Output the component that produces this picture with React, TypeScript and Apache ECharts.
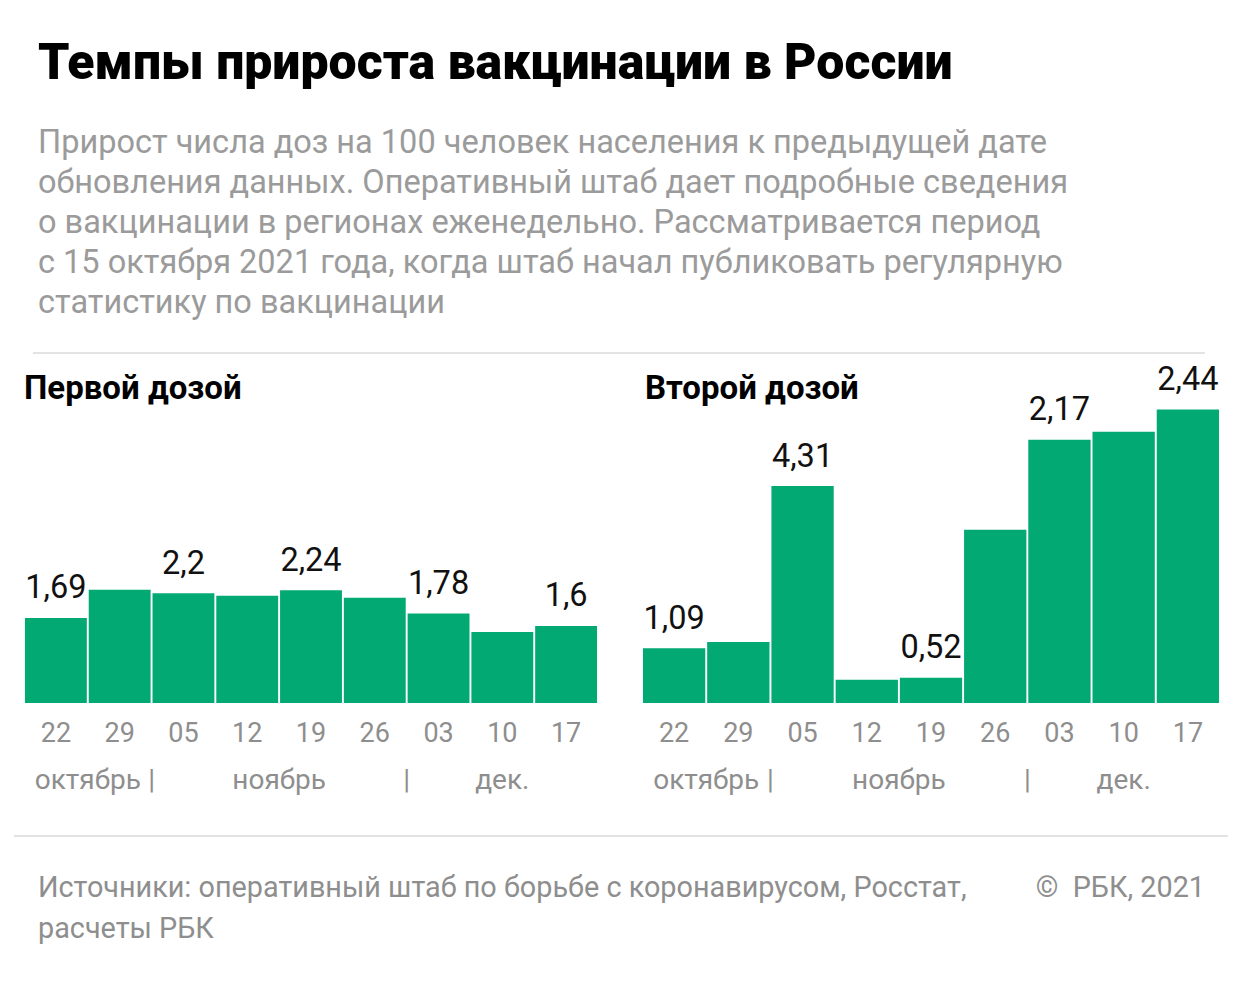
import React, { useEffect, useRef } from "react";
import * as echarts from "echarts";

const weeks = ["22", "29", "05", "12", "19", "26", "03", "10", "17"];
const monthRow = ["", "", "октябрь", "", "|", "", "", "", "ноябрь", "", "", "", "|", "", "", "дек.", "", "", ""];
const firstDose = [1.69, 2.25, 2.18, 2.13, 2.24, 2.09, 1.78, 1.41, 1.53];
const firstLabels = ["1,69", "", "2,2", "", "2,24", "", "1,78", "", "1,6"];
const secondDose = [1.09, 1.21, 4.31, 0.46, 0.5, 3.44, 5.23, 5.39, 5.83];
const secondLabels = ["1,09", "", "4,31", "", "0,52", "", "2,17", "", "2,44"];

const title = "Темпы прироста вакцинации в России";
const subtitle = [
  "Прирост числа доз на 100 человек населения к предыдущей дате",
  "обновления данных. Оперативный штаб дает подробные сведения",
  "о вакцинации в регионах еженедельно. Рассматривается период",
  "с 15 октября 2021 года, когда штаб начал публиковать регулярную",
  "статистику по вакцинации",
];
const panelTitles = ["Первой дозой", "Второй дозой"];
const sourceLines = ["Источники: оперативный штаб по борьбе с коронавирусом, Росстат,", "расчеты РБК"];
const copyright = "©  РБК, 2021";

const GREEN = "#02a972";
const GRAY = "#8e8e8e";
const FONT = "Roboto, 'Noto Sans', sans-serif";

export default function App() {
  const ref = useRef<HTMLDivElement>(null);
  useEffect(() => {
    if (!ref.current) return;
    const chart = echarts.init(ref.current, null, { renderer: "svg" });
    const grids = [
      { left: 24, width: 574, top: 401, height: 302 },
      { left: 642, width: 578, top: 401, height: 302 },
    ];
    const xAxes: any[] = [];
    const yAxes: any[] = [];
    grids.forEach((_, i) => {
      xAxes.push({
        type: "category",
        gridIndex: i,
        data: weeks,
        axisLine: { show: false },
        axisTick: { show: false },
        axisLabel: { color: GRAY, fontSize: 27, fontFamily: FONT, margin: 16, interval: 0 },
      });
      xAxes.push({
        type: "category",
        gridIndex: i,
        position: "bottom",
        boundaryGap: false,
        data: monthRow,
        axisLine: { show: false },
        axisTick: { show: false },
        axisLabel: { color: GRAY, fontSize: 28, fontFamily: FONT, margin: 62, interval: 0 },
      });
      yAxes.push({
        type: "value",
        gridIndex: i,
        min: 0,
        max: 6,
        show: false,
        splitLine: { show: false },
      });
    });
    const mkSeries = (vals: number[], labels: string[], idx: number) => ({
      type: "bar",
      xAxisIndex: idx * 2,
      yAxisIndex: idx,
      data: vals,
      barCategoryGap: "3%",
      itemStyle: { color: GREEN },
      label: {
        show: true,
        position: "top",
        distance: 14,
        color: "#111",
        fontSize: 32.5,
        fontFamily: FONT,
        formatter: (p: any) => labels[p.dataIndex],
      },
    });
    const graphics: any[] = [
      {
        type: "text",
        left: 38,
        top: 37,
        style: { text: title, fontSize: 50, fontWeight: 900, fill: "#000", fontFamily: FONT },
      },
      ...subtitle.map((t, i) => ({
        type: "text",
        left: 38,
        top: 125 + i * 40,
        style: { text: t, fontSize: 32.5, fill: "#9b9b9b", fontFamily: FONT },
      })),
      { type: "line", shape: { x1: 33, y1: 353, x2: 1205, y2: 353 }, style: { stroke: "#e3e3e3", lineWidth: 2 } },
      {
        type: "text",
        left: 24,
        top: 371,
        style: { text: panelTitles[0], fontSize: 33, fontWeight: "bold", fill: "#000", fontFamily: FONT },
      },
      {
        type: "text",
        left: 645,
        top: 371,
        style: { text: panelTitles[1], fontSize: 33, fontWeight: "bold", fill: "#000", fontFamily: FONT },
      },
      { type: "line", shape: { x1: 14, y1: 836, x2: 1228, y2: 836 }, style: { stroke: "#e3e3e3", lineWidth: 2 } },
      ...sourceLines.map((t, i) => ({
        type: "text",
        left: 38,
        top: 872 + i * 41,
        style: { text: t, fontSize: 28.8, fill: GRAY, fontFamily: FONT },
      })),
      {
        type: "text",
        right: 35,
        top: 872,
        style: { text: copyright, fontSize: 28.8, fill: GRAY, fontFamily: FONT },
      },
    ];
    chart.setOption({
      animation: false,
      backgroundColor: "#fff",
      grid: grids,
      xAxis: xAxes,
      yAxis: yAxes,
      series: [mkSeries(firstDose, firstLabels, 0), mkSeries(secondDose, secondLabels, 1)],
      graphic: graphics,
    });
    return () => chart.dispose();
  }, []);
  return <div ref={ref} style={{ position: "absolute", left: 0, top: 0, width: 1240, height: 992 }} />;
}
